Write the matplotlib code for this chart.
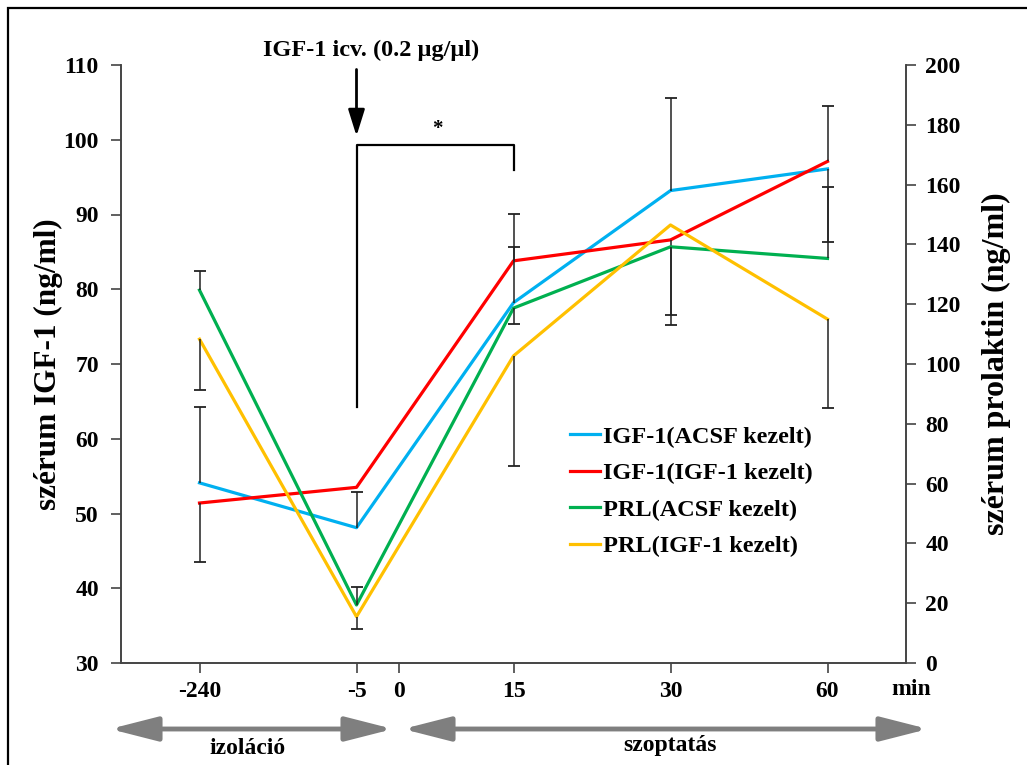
import matplotlib
matplotlib.use("Agg")
import matplotlib.pyplot as plt
import numpy as np
from matplotlib.patches import Rectangle, FancyArrowPatch
from matplotlib.lines import Line2D

# sampling times (min) and the extra "0" tick between -5 and 15
times = ["-240", "-5", "15", "30", "60"]
zero_pos = 1.27

# serum IGF-1 (ng/ml), left axis
igf_acsf = [54.1, 48.1, 78.2, 93.2, 96.1]
igf_igf = [51.4, 53.5, 83.8, 86.6, 97.1]
# serum prolactin (ng/ml), right axis
prl_acsf = [124.7, 19.4, 118.7, 139.2, 135.3]
prl_igf = [108.3, 15.5, 102.7, 146.5, 115.0]

# one-sided error bars: + drawn upward, - drawn downward, 0 = none
igf_acsf_err = [10.2, 4.8, 7.5, 12.4, -9.8]
igf_igf_err = [-7.85, 0, 6.3, -10.0, 7.4]
prl_acsf_err = [6.5, 5.9, -5.4, -26.2, 24.0]
prl_igf_err = [-17.0, -4.1, -36.9, 0, -29.8]

labels = ["IGF-1(ACSF kezelt)", "IGF-1(IGF-1 kezelt)",
          "PRL(ACSF kezelt)", "PRL(IGF-1 kezelt)"]
colors = ["#00B0F0", "#FF0000", "#00B050", "#FFC000"]

plt.rcParams["font.family"] = "Liberation Serif"
plt.rcParams["font.weight"] = "bold"

fig = plt.figure(figsize=(10.27, 7.65), dpi=100)
ax = fig.add_axes([121 / 1027, 1 - 663 / 765, 785 / 1027, 598 / 765])
ax2 = ax.twinx()

x = np.arange(len(times))


def draw_errors(axis, means, errs):
    means = np.array(means)
    errs = np.array(errs)
    mask = errs != 0
    tips = means + errs
    axis.vlines(x[mask], means[mask], tips[mask], color="#222222", lw=1.1, zorder=5)
    axis.plot(x[mask], tips[mask], ls="none", marker="_", ms=8, mew=1.3,
              color="#222222", zorder=5)


ax.plot(x, igf_acsf, color=colors[0], lw=2.3, zorder=3)
ax.plot(x, igf_igf, color=colors[1], lw=2.3, zorder=3)
ax2.plot(x, prl_acsf, color=colors[2], lw=2.3, zorder=3)
ax2.plot(x, prl_igf, color=colors[3], lw=2.3, zorder=3)

draw_errors(ax, igf_acsf, igf_acsf_err)
draw_errors(ax, igf_igf, igf_igf_err)
draw_errors(ax2, prl_acsf, prl_acsf_err)
draw_errors(ax2, prl_igf, prl_igf_err)

ax.set_xlim(-0.5, 4.5)
ax.set_ylim(30, 110)
ax2.set_ylim(0, 200)
ax.set_yticks(np.arange(30, 111, 10))
ax2.set_yticks(np.arange(0, 201, 20))
ax.set_xticks([0, 1, zero_pos, 2, 3, 4])
ax.set_xticklabels([times[0], times[1], "0"] + times[2:])

spine_col = "#444444"
for a in (ax, ax2):
    a.spines["top"].set_visible(False)
    for s in ("left", "right", "bottom"):
        a.spines[s].set_color(spine_col)
        a.spines[s].set_linewidth(1.2)
    a.tick_params(colors=spine_col, labelcolor="black", width=1.2, length=7,
                  labelsize=17)
    for t in a.get_yticklabels() + a.get_xticklabels():
        t.set_fontweight("bold")
ax.tick_params(axis="y", pad=9)
ax.tick_params(axis="x", pad=6)
ax2.tick_params(axis="y", pad=7)

ax.set_ylabel("szérum IGF-1 (ng/ml)", fontsize=22.5, fontweight="bold", labelpad=0)
ax2.set_ylabel("szérum prolaktin (ng/ml)", fontsize=23, fontweight="bold", labelpad=15)
ax.text(4.53, 26.4, "min", fontsize=17, fontweight="bold", ha="center", va="center",
        clip_on=False)

# injection marker and significance bracket
ax.plot([1, 1, 2, 2], [64.25, 99.3, 99.3, 95.9], color="black", lw=1.6,
        zorder=4, clip_on=False)
ax.annotate("", xy=(1, 100.5), xytext=(1, 109.4),
            arrowprops=dict(arrowstyle="-|>,head_length=1.6,head_width=0.5",
                            color="black", lw=2, shrinkA=0, shrinkB=0),
            annotation_clip=False)
ax.text(1.095, 112.0, "IGF-1 icv. (0.2 µg/µl)", fontsize=17.5, fontweight="bold",
        ha="center", va="center", clip_on=False)
ax.text(1.516, 101.5, "*", fontsize=15, fontweight="bold", ha="center",
        va="center")

handles = [Line2D([], [], color=c, lw=2.3) for c in colors]
ax2.legend(handles, labels, loc="upper left", bbox_to_anchor=(0.572, 0.397),
           frameon=False, handlelength=1.25, handletextpad=0.1,
           labelspacing=0.6, borderpad=0, borderaxespad=0,
           prop={"weight": "bold", "size": 17.5})

# phase arrows under the time axis
y_arr = 1 - 729 / 765
for x0, x1 in [(110, 393), (403, 928)]:
    fig.patches.append(FancyArrowPatch(
        (x0 / 1027, y_arr), (x1 / 1027, y_arr), transform=fig.transFigure,
        arrowstyle="<|-|>,head_length=1.45,head_width=0.37", mutation_scale=20,
        color="#7F7F7F", lw=3.5, shrinkA=0, shrinkB=0))
fig.text(247 / 1027, 1 - 748 / 765, "izoláció", fontsize=17, fontweight="bold",
         ha="center", va="center")
fig.text(670 / 1027, 1 - 746 / 765, "szoptatás", fontsize=17, fontweight="bold",
         ha="center", va="center")

# outer frame
fig.patches.append(Rectangle((8 / 1027, -0.1), 2.0, 1 - 8 / 765 + 0.1,
                             transform=fig.transFigure, fill=False,
                             ec="black", lw=1.6))

fig.savefig("out.png", dpi=100)
